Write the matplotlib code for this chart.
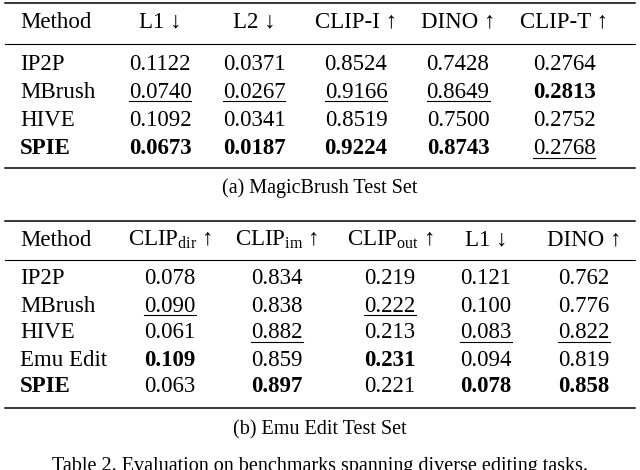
import matplotlib
matplotlib.use("Agg")
import matplotlib.pyplot as plt

plt.rcParams['font.family'] = ['Liberation Serif', 'DejaVu Serif']
plt.rcParams['mathtext.fontset'] = 'custom'
plt.rcParams['mathtext.rm'] = 'Liberation Serif'
plt.rcParams['mathtext.it'] = 'Liberation Serif:italic'

W, H = 640, 470
FS = 16.5

t1_header = ["Method", "L1 ↓", "L2 ↓", "CLIP-I ↑", "DINO ↑", "CLIP-T ↑"]
t1_methods = ["IP2P", "MBrush", "HIVE", "SPIE"]
t1_values = [
    ["0.1122", "0.0371", "0.8524", "0.7428", "0.2764"],
    ["0.0740", "0.0267", "0.9166", "0.8649", "0.2813"],
    ["0.1092", "0.0341", "0.8519", "0.7500", "0.2752"],
    ["0.0673", "0.0187", "0.9224", "0.8743", "0.2768"],
]
t1_style = [
    ["", "", "", "", ""],
    ["u", "u", "u", "u", "b"],
    ["", "", "", "", ""],
    ["b", "b", "b", "b", "u"],
]
t1_caption = "(a) MagicBrush Test Set"

t2_header = ["Method", "CLIP$_{\\mathrm{dir}}$ ↑", "CLIP$_{\\mathrm{im}}$ ↑",
             "CLIP$_{\\mathrm{out}}$ ↑", "L1 ↓", "DINO ↑"]
t2_methods = ["IP2P", "MBrush", "HIVE", "Emu Edit", "SPIE"]
t2_values = [
    ["0.078", "0.834", "0.219", "0.121", "0.762"],
    ["0.090", "0.838", "0.222", "0.100", "0.776"],
    ["0.061", "0.882", "0.213", "0.083", "0.822"],
    ["0.109", "0.859", "0.231", "0.094", "0.819"],
    ["0.063", "0.897", "0.221", "0.078", "0.858"],
]
t2_style = [
    ["", "", "", "", ""],
    ["u", "", "u", "", ""],
    ["", "u", "", "u", "u"],
    ["b", "", "b", "", ""],
    ["", "b", "", "b", "b"],
]
t2_caption = "(b) Emu Edit Test Set"
main_caption = "Table 2. Evaluation on benchmarks spanning diverse editing tasks."

fig = plt.figure(figsize=(6.4, 4.7), dpi=100)
ax = fig.add_axes([0, 0, 1, 1])
ax.set_xlim(0, W)
ax.set_ylim(H, 0)
ax.axis('off')

underlines = []

def txt(x, y, s, ha='center', weight='normal', ul=False, fs=FS):
    t = ax.text(x, y, s, ha=ha, va='center', fontsize=fs, fontweight=weight)
    if ul:
        underlines.append((t, y))
    return t

def table(top, hy, mid, header, cols, methods, values, styles, rows_y, bottom, cap, cap_y):
    ax.plot([5, 635], [top, top], color='black', lw=1.1)
    txt(20, hy, header[0], ha='left')
    for x, h in zip(cols, header[1:]):
        txt(x, hy, h)
    ax.plot([5, 635], [mid, mid], color='black', lw=0.8)
    for y, m, vals, st in zip(rows_y, methods, values, styles):
        txt(20, y, m, ha='left', weight='bold' if m == 'SPIE' else 'normal')
        for x, v, s in zip(cols, vals, st):
            txt(x, y, v, weight='bold' if s == 'b' else 'normal', ul=(s == 'u'))
    ax.plot([5, 635], [bottom, bottom], color='black', lw=1.1)
    txt(320, cap_y, cap, fs=14.5)

table(3, 22, 44, t1_header, [160, 254, 356, 458, 564], t1_methods, t1_values, t1_style,
      [64, 92, 120, 149], 168, t1_caption, 188)
table(221, 240, 260, t2_header, [170, 277, 390, 486, 584], t2_methods, t2_values, t2_style,
      [279, 306, 333, 360, 387], 408, t2_caption, 430)
txt(320, 467, main_caption, fs=14.5)

fig.canvas.draw()
r = fig.canvas.get_renderer()
inv = ax.transData.inverted()
for t, y in underlines:
    bb = t.get_window_extent(r)
    (x0, _), (x1, _) = inv.transform([(bb.x0, bb.y0), (bb.x1, bb.y0)])
    ax.plot([x0, x1], [y + 9, y + 9], color='black', lw=0.8)

fig.savefig("out.png", dpi=100)
